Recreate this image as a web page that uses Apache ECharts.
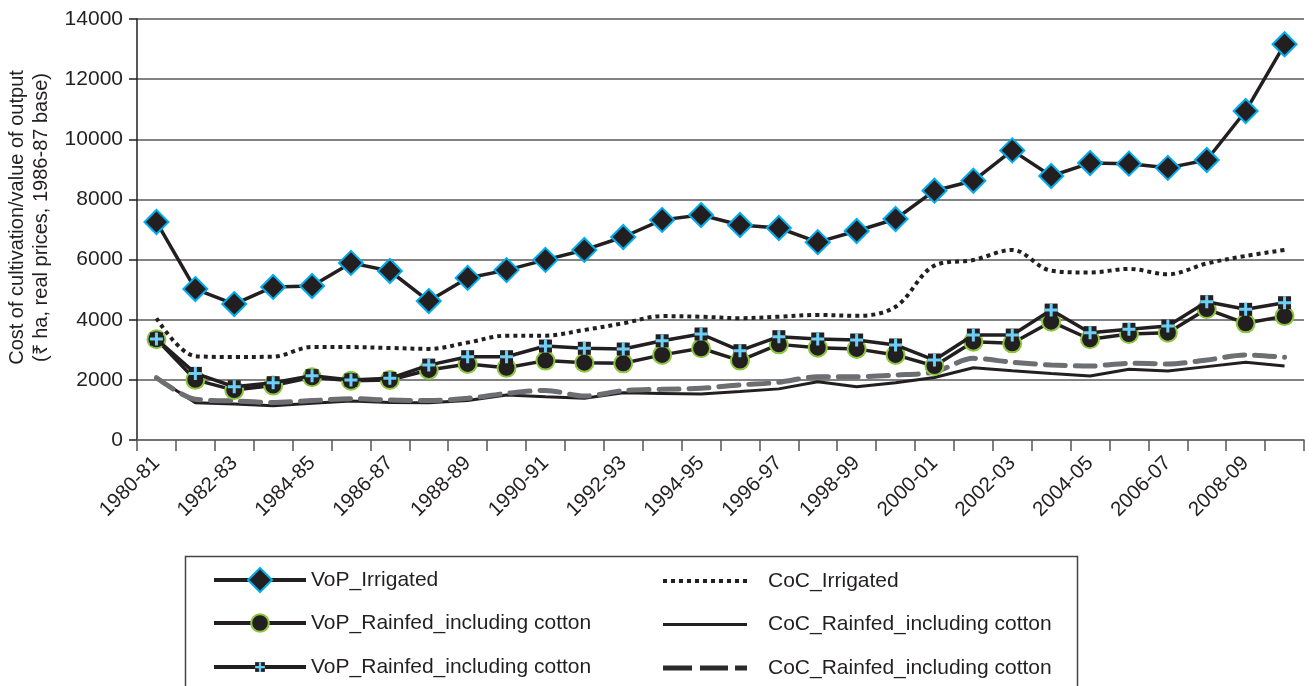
<!DOCTYPE html>
<html>
<head>
<meta charset="utf-8">
<script src="https://cdn.jsdelivr.net/npm/echarts@6/dist/echarts.min.js"></script>
<style>html,body{margin:0;padding:0;background:#fff;}#c{width:1313px;height:686px;}</style>
</head>
<body>
<div id="c"></div>
<script>
const categories = ['1980-81','1981-82','1982-83','1983-84','1984-85','1985-86','1986-87','1987-88','1988-89','1989-90','1990-91','1991-92','1992-93','1993-94','1994-95','1995-96','1996-97','1997-98','1998-99','1999-00','2000-01','2001-02','2002-03','2003-04','2004-05','2005-06','2006-07','2007-08','2008-09','2009-10'];
const vopIrrigated = [7250,5020,4520,5090,5120,5890,5620,4620,5390,5650,5990,6320,6750,7320,7480,7150,7050,6580,6950,7350,8290,8620,9630,8780,9210,9190,9050,9310,10940,13160];
const vopRainfedCircle = [3350,2000,1660,1810,2085,1970,1995,2330,2530,2400,2640,2570,2550,2830,3050,2640,3180,3070,3030,2830,2460,3270,3215,3935,3350,3525,3570,4355,3880,4120];
const vopRainfedPlus = [3360,2215,1770,1905,2140,1995,2050,2490,2770,2770,3125,3050,3025,3300,3525,2970,3435,3360,3325,3160,2660,3490,3490,4320,3570,3680,3790,4600,4345,4565];
const cocIrrigated = [4050,2790,2760,2770,3090,3090,3060,3030,3240,3470,3470,3660,3880,4120,4100,4050,4100,4160,4130,4430,5800,5985,6320,5630,5570,5690,5510,5870,6120,6320];
const cocRainfedSolid = [2070,1240,1200,1140,1220,1300,1250,1240,1310,1500,1440,1385,1570,1550,1530,1610,1700,1940,1770,1905,2080,2405,2305,2215,2130,2350,2295,2440,2585,2460];
const cocRainfedDashed = [2070,1355,1300,1250,1310,1375,1330,1310,1385,1550,1650,1460,1640,1685,1720,1830,1920,2105,2105,2160,2260,2715,2585,2495,2460,2550,2530,2660,2830,2750];
const yTicks = [0,2000,4000,6000,8000,10000,12000,14000];

const BLK = '#231f20';
const FONT = 'Liberation Sans, Arial, sans-serif';
const plusSvg = 'image://data:image/svg+xml;charset=utf-8,' + encodeURIComponent(
  '<svg xmlns="http://www.w3.org/2000/svg" width="16" height="16" viewBox="0 0 16 16">' +
  '<rect x="1.5" y="1.5" width="13" height="13" fill="#231f20"/>' +
  '<path d="M8 1.5V14.5M1.5 8H14.5" stroke="#6dcff6" stroke-width="3"/></svg>');

// legend icon paths (84 x 5 box)
let dotPath = 'path://M0 0.5H0.01V4.5H0Z';
for (let k = 0; k < 11; k++) { const x = k * 8; dotPath += 'M' + x + ' 0.5H' + (x + 4) + 'V4.5H' + x + 'Z'; }
const solidPath = 'path://M0 1H84V4H0Z';
const dashPath = 'path://M0 0H29V5H0ZM37 0H65V5H37ZM72 0H84V5H72Z';

const n1 = 'VoP_Irrigated';
const n2 = 'VoP_Rainfed_including cotton';
const n3 = 'VoP_Rainfed_including cotton ';
const n4 = 'CoC_Irrigated';
const n5 = 'CoC_Rainfed_including cotton';
const n6 = 'CoC_Rainfed_including cotton ';

const legTxt = {fontSize: 21, color: BLK, fontFamily: FONT, lineHeight: 22};
function leftLegend(name, top, h) {
  return {
    orient: 'vertical', left: 212, top: top, padding: 0,
    itemWidth: 92, itemHeight: h,
    lineStyle: {width: 4},
    textStyle: Object.assign({padding: [0, 0, 0, 0]}, legTxt),
    data: [name]
  };
}

const chart = echarts.init(document.getElementById('c'));
chart.setOption({
  animation: false,
  textStyle: {fontFamily: FONT},
  grid: {left: 137, right: 9, top: 19, bottom: 246, containLabel: false, outerBoundsMode: 'none'},
  graphic: [{
    type: 'rect', z: 0,
    shape: {x: 185.5, y: 556.5, width: 892, height: 140},
    style: {fill: 'none', stroke: '#444', lineWidth: 1.5}
  }],
  legend: [
    leftLegend(n1, 582 - 15, 30),
    leftLegend(n2, 623 - 11, 22),
    leftLegend(n3, 667 - 11, 15),
    {
      orient: 'vertical', left: 663, top: 570, padding: 0,
      itemWidth: 84, itemHeight: 5, itemGap: 21.5,
      textStyle: Object.assign({padding: [0, 0, 0, 16]}, legTxt),
      data: [
        {name: n4, icon: dotPath, itemStyle: {color: BLK}},
        {name: n5, icon: solidPath, itemStyle: {color: BLK}},
        {name: n6, icon: dashPath, itemStyle: {color: '#2b2b2b'}}
      ]
    }
  ],
  xAxis: {
    type: 'category', data: categories, boundaryGap: true,
    axisLine: {lineStyle: {color: '#6d6e71', width: 1.5}},
    axisTick: {show: true, interval: 0, length: 11, lineStyle: {color: '#555', width: 1.5}},
    axisLabel: {interval: 1, rotate: 45, fontSize: 20.5, color: BLK, margin: 20, fontFamily: FONT}
  },
  yAxis: {
    type: 'value', min: 0, max: 14000, interval: 2000,
    name: 'Cost of cultivation/value of output\n(₹ ha, real prices, 1986-87 base)',
    nameLocation: 'middle', nameGap: 82, nameRotate: 90,
    nameTextStyle: {fontSize: 20, color: BLK, lineHeight: 24, fontFamily: FONT, padding: [0, 0, 0, 24]},
    axisLine: {show: true, lineStyle: {color: BLK, width: 1.5}},
    axisTick: {show: true, length: 8, lineStyle: {color: BLK, width: 1.5}},
    axisLabel: {fontSize: 21, color: BLK, margin: 14, fontFamily: FONT, formatter: v => String(v)},
    splitLine: {lineStyle: {color: '#58595b', width: 1.5}}
  },
  series: [
    {name: n4, type: 'line', data: cocIrrigated, smooth: 0.35, symbol: 'none',
     lineStyle: {color: BLK, width: 4, type: [4, 4], cap: 'butt'}, itemStyle: {color: BLK}, z: 2},
    {name: n5, type: 'line', data: cocRainfedSolid, symbol: 'none',
     lineStyle: {color: BLK, width: 3}, itemStyle: {color: BLK}, z: 2},
    {name: n6, type: 'line', data: cocRainfedDashed, smooth: 0.3, symbol: 'none',
     lineStyle: {color: '#6d6e71', width: 5, type: [20, 10], cap: 'round'}, itemStyle: {color: '#6d6e71'}, z: 2},
    {name: n1, type: 'line', data: vopIrrigated, symbol: 'diamond', symbolSize: 24,
     lineStyle: {color: BLK, width: 3.5}, itemStyle: {color: BLK, borderColor: '#00aeef', borderWidth: 2}, z: 3},
    {name: n2, type: 'line', data: vopRainfedCircle, symbol: 'circle', symbolSize: 18,
     lineStyle: {color: BLK, width: 3.5}, itemStyle: {color: BLK, borderColor: '#8dc63f', borderWidth: 2}, z: 3},
    {name: n3, type: 'line', data: vopRainfedPlus, symbol: plusSvg, symbolSize: 16,
     lineStyle: {color: BLK, width: 3.5}, itemStyle: {color: BLK}, z: 4}
  ]
});
</script>
</body>
</html>
